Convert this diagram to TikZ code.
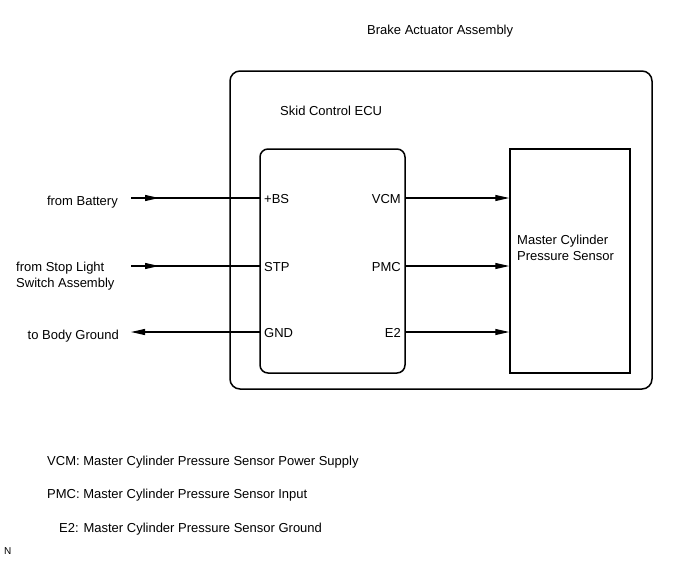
\documentclass[tikz,border=0pt]{standalone}
\usepackage{fontspec}
\setmainfont{Liberation Sans}
\usetikzlibrary{arrows.meta,decorations.markings}
\begin{document}
\begin{tikzpicture}[x=1pt,y=-1pt,
  txt/.style={inner sep=0pt,font=\fontsize{13}{16}\selectfont},
  boxline/.style={line width=1.5pt},
  wire/.style={line width=1.1pt},
  tip/.style={-{Triangle[length=14pt,width=6pt]}},
  midtip/.style={postaction={decorate},decoration={markings,mark=at position 28pt with {\arrow{Triangle[length=14pt,width=6pt]}}}}
]
\useasboundingbox (0,0) rectangle (688,560);
% boxes
\draw[boxline,rounded corners=10pt] (230,71) rectangle (652,389);
\node[boxline,draw,rounded corners=8pt,minimum width=145pt,minimum height=224pt,inner sep=0pt] (ecu) at (332.5,261) {};
\node[boxline,draw,minimum width=120pt,minimum height=224pt,inner sep=0pt] (mcps) at (570,261) {};
% titles
\node[txt,anchor=west] (title) at (367,31) {Brake Actuator Assembly};
\node[txt,anchor=west] (ecut) at (280,111) {Skid Control ECU};
\node[txt,anchor=west,align=left] (mcpst) at (517,248) {Master Cylinder\\Pressure Sensor};
% pins
\node[txt,anchor=west] (bs) at (264,199) {+BS};
\node[txt,anchor=west] (stp) at (264,267) {STP};
\node[txt,anchor=west] (gnd) at (264,333) {GND};
\node[txt,anchor=east] (vcm) at (401,199) {VCM};
\node[txt,anchor=east] (pmc) at (401,267) {PMC};
\node[txt,anchor=east] (e2) at (401,333) {E2};
% external labels
\node[txt,anchor=east] (batt) at (118,202) {from Battery};
\node[txt,anchor=west,align=left] (stop) at (16,276) {from Stop Light\\Switch Assembly};
\node[txt,anchor=east] (body) at (119,336) {to Body Ground};
% wire end coordinates
\coordinate (inbs) at (131,198);
\coordinate (instp) at (131,266);
\coordinate (ingnd) at (131,332);
\coordinate (pbs) at (260,198);
\coordinate (pstp) at (260,266);
\coordinate (pgnd) at (260,332);
\coordinate (pvcm) at (405,198);
\coordinate (ppmc) at (405,266);
\coordinate (pe2) at (405,332);
% left wires
\draw[wire,midtip] (inbs) -- (pbs);
\draw[wire,midtip] (instp) -- (pstp);
\draw[wire,tip] (pgnd) -- (ingnd);
% right wires
\draw[wire,tip] (pvcm) -- (mcps.west |- pvcm);
\draw[wire,tip] (ppmc) -- (mcps.west |- ppmc);
\draw[wire,tip] (pe2) -- (mcps.west |- pe2);
% legend
\node[txt,anchor=west] (l1) at (47,462) {VCM: Master Cylinder Pressure Sensor Power Supply};
\node[txt,anchor=west] (l2) at (47,495) {PMC: Master Cylinder Pressure Sensor Input};
\node[txt,anchor=west] (l3) at (59,529) {E2: Master Cylinder Pressure Sensor Ground};
\node[inner sep=0pt,anchor=west,font=\fontsize{10}{12}\selectfont] (n) at (4,551) {N};
\end{tikzpicture}
\end{document}
